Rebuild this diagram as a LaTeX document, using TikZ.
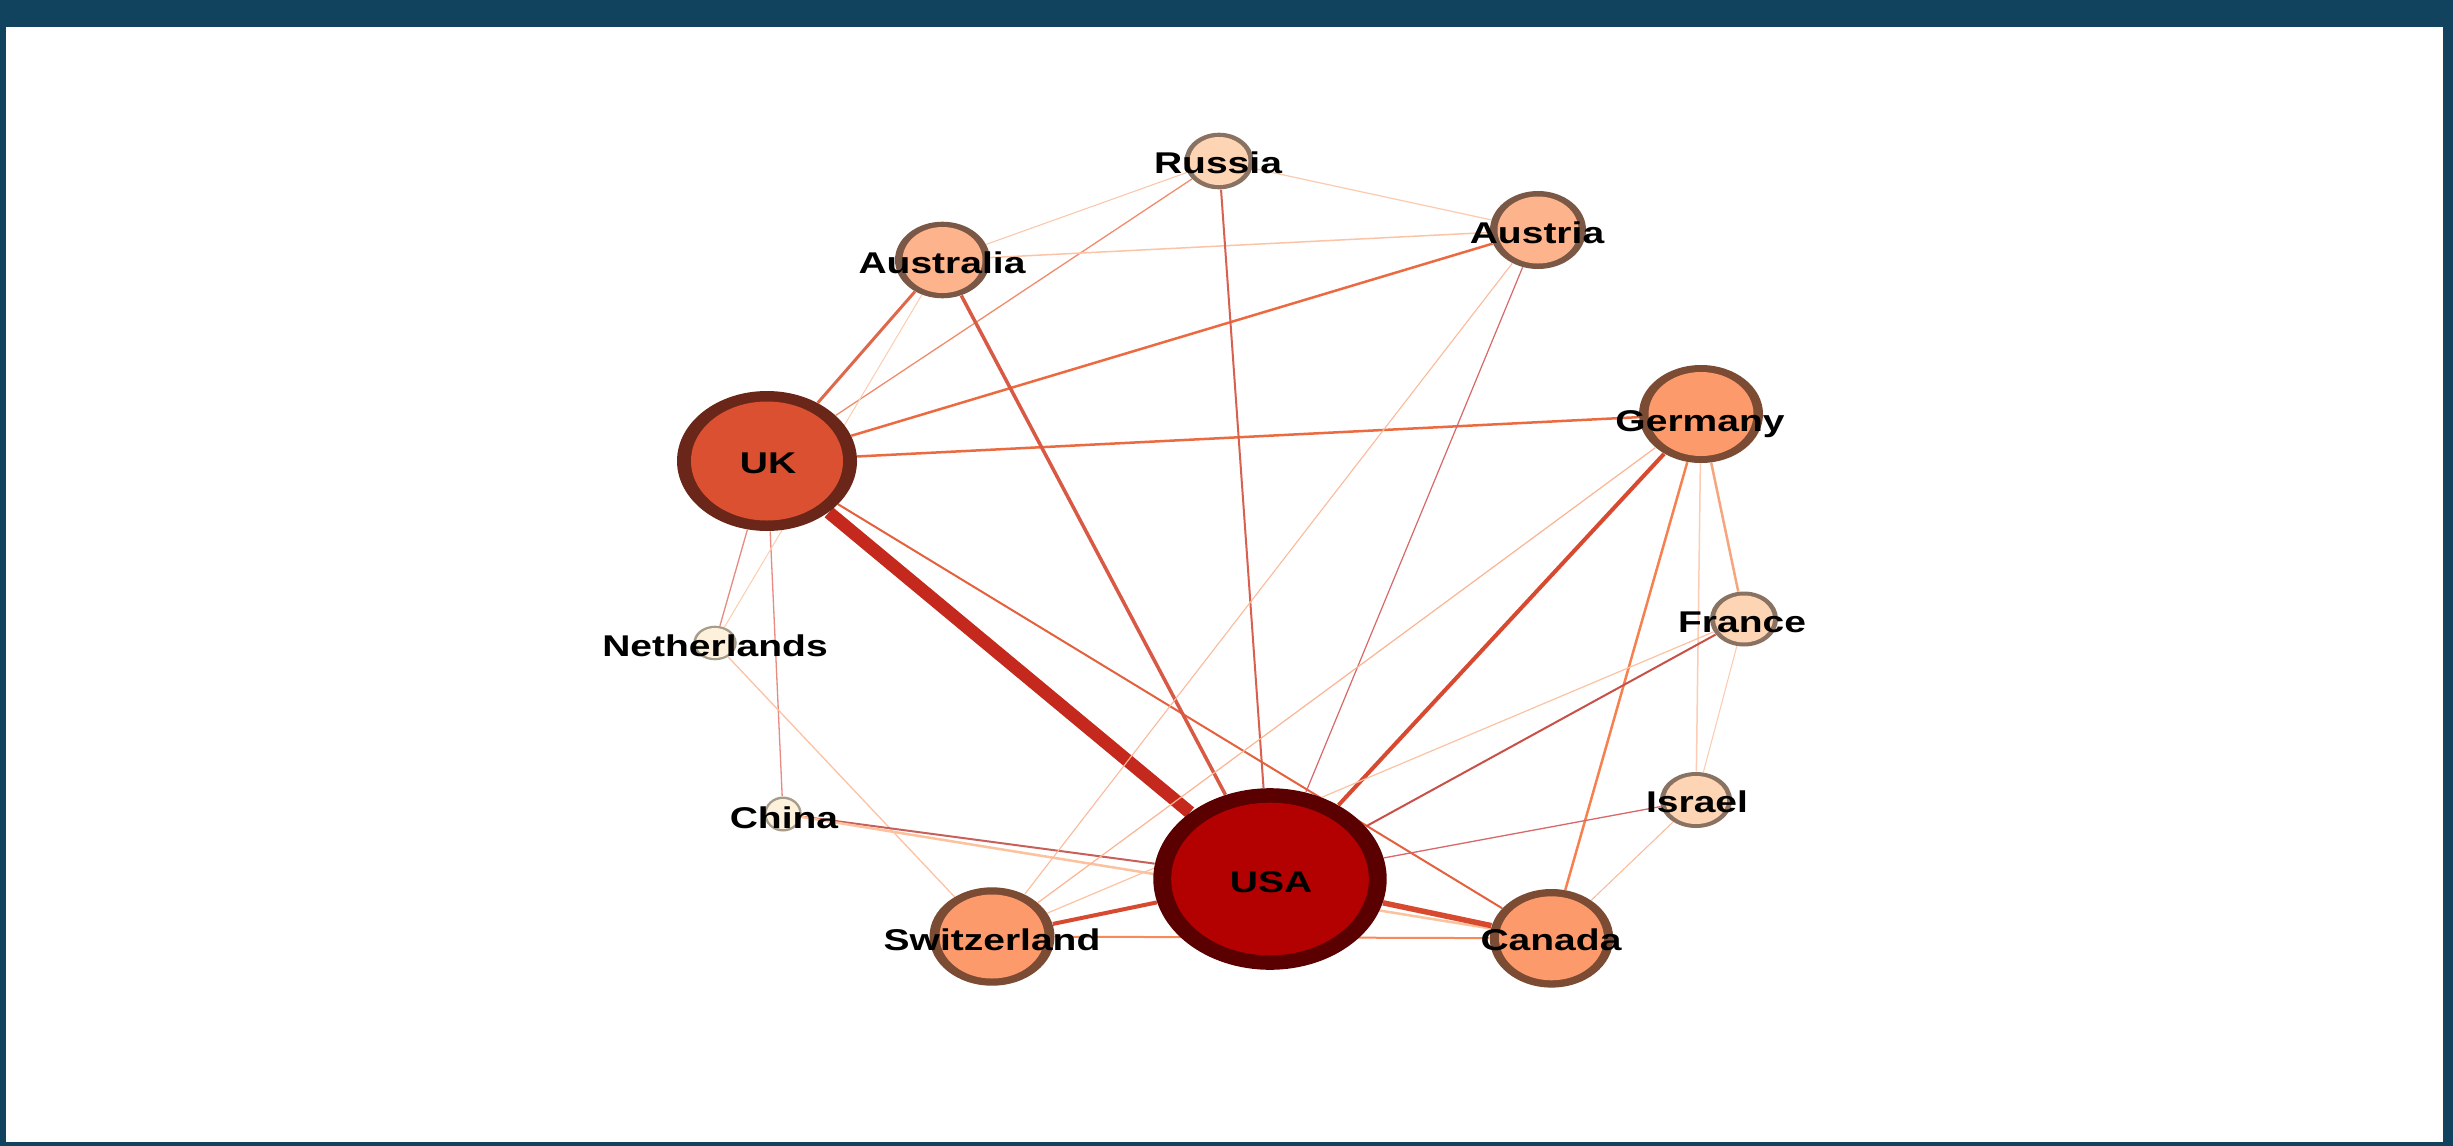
\documentclass[tikz,border=0pt]{standalone}
\usepackage{fontspec}
\setmainfont{Liberation Sans}
\usetikzlibrary{shapes.geometric}
\pgfdeclarelayer{bgzero}
\pgfdeclarelayer{edgelayer}
\pgfsetlayers{bgzero,edgelayer,main}

\definecolor{framec}{HTML}{12435E}
% node colours
\definecolor{usaF}{HTML}{B30000}\definecolor{usaB}{HTML}{5A0000}
\definecolor{ukF}{HTML}{DA5030}\definecolor{ukB}{HTML}{6B261A}
\definecolor{midF}{HTML}{FC9A6B}\definecolor{midB}{HTML}{7B4B34}
\definecolor{peaF}{HTML}{FDB48C}\definecolor{peaB}{HTML}{7B5845}
\definecolor{lowF}{HTML}{FDD5B5}\definecolor{lowB}{HTML}{8A7262}
\definecolor{minF}{HTML}{FEF1DC}\definecolor{minB}{HTML}{A59C8C}

% cnode args: x radius and y radius in px (1px = 0.5pt, so diameter in pt = radius value)
\tikzset{
  cnode/.style 2 args={ellipse, inner sep=0pt, draw=none,
    minimum width=#1pt, minimum height=#2pt},
  lbl/.style={anchor=base, inner sep=0pt, text=black,
    font=\fontsize{15pt}{18pt}\selectfont\bfseries},
  ed/.style 2 args={line width=#1*0.5pt,
    /utils/exec={\definecolor{edc}{HTML}{#2}}, draw=edc, line cap=butt},
}
\newcommand{\lab}[1]{\scalebox{1.3}[1]{#1}}

\begin{document}
\begin{tikzpicture}[x=0.5pt, y=-0.5pt]
\useasboundingbox (0,0) rectangle (2453,1146);

% frame
\begin{pgfonlayer}{bgzero}
\fill[framec] (0,0) rectangle (2453,1146);
\fill[white] (6,27) rectangle (2443,1142);
\end{pgfonlayer}

% nodes (outer ellipses = borders)
\node[cnode={116.7}{90.8}, fill=usaB] (usa) at (1270,879) {};
\node[cnode={90}{70}, fill=ukB] (uk) at (767,461) {};
\node[cnode={62}{49}, fill=midB] (ger) at (1701,414) {};
\node[cnode={62.5}{49.2}, fill=midB] (swi) at (992,936.5) {};
\node[cnode={61.7}{49.3}, fill=midB] (can) at (1551.5,938.3) {};
\node[cnode={47.5}{38.3}, fill=peaB] (aul) at (942.5,260) {};
\node[cnode={48}{39}, fill=peaB] (aut) at (1538,230) {};
\node[cnode={34.5}{28.3}, fill=lowB] (rus) at (1219,161) {};
\node[cnode={34}{27.5}, fill=lowB] (fra) at (1744,619) {};
\node[cnode={36}{28}, fill=lowB] (isr) at (1696,800) {};
\node[cnode={21.7}{17.3}, fill=minB] (ned) at (715,643) {};
\node[cnode={18.7}{17.5}, fill=minB] (chn) at (783,814) {};

% inner fills
\fill[usaF] (usa.center) ellipse [x radius=98.8, y radius=76.3];
\fill[ukF] (uk.center) ellipse [x radius=76, y radius=59.5];
\fill[midF] (ger.center) ellipse [x radius=52.5, y radius=42];
\fill[midF] (swi.center) ellipse [x radius=52.5, y radius=42];
\fill[midF] (can.center) ellipse [x radius=52.5, y radius=42];
\fill[peaF] (aul.center) ellipse [x radius=40, y radius=33];
\fill[peaF] (aut.center) ellipse [x radius=40.5, y radius=33.5];
\fill[lowF] (rus.center) ellipse [x radius=29.5, y radius=24];
\fill[lowF] (fra.center) ellipse [x radius=29, y radius=23.5];
\fill[lowF] (isr.center) ellipse [x radius=31, y radius=24];
\fill[minF] (ned.center) ellipse [x radius=19, y radius=15];
\fill[minF] (chn.center) ellipse [x radius=16.3, y radius=15];

% edges
\begin{pgfonlayer}{edgelayer}
\draw[ed={13}{C5281C}] (uk) -- (usa);
\draw[ed={3}{E0684A}] (uk) -- (aul);
\draw[ed={2.5}{EC6A40}] (uk) -- (aut);
\draw[ed={2.5}{EC6A40}] (uk) -- (ger);
\draw[ed={2}{E5603C}] (uk) -- (can);
\draw[ed={1.3}{E88A80}] (uk) -- (ned);
\draw[ed={1.3}{E88A80}] (uk) -- (chn);
\draw[ed={1.3}{F08C6C}] (uk) -- (rus);
\draw[ed={1}{FDCDB0}] (ned) -- (aul);
\draw[ed={1.3}{FCC2A4}] (ned) -- (swi);
\draw[ed={2}{C8605A}] (chn) -- (usa);
\draw[ed={2.5}{FCC29E}] (chn) -- (can);
\draw[ed={3.5}{D85A45}] (aul) -- (usa);
\draw[ed={1}{FCC4A6}] (aul) -- (rus);
\draw[ed={1.5}{FCC4A6}] (aul) -- (aut);
\draw[ed={1.2}{FCCAAE}] (rus) -- (aut);
\draw[ed={2}{D8604E}] (rus) -- (usa);
\draw[ed={1.2}{D86868}] (aut) -- (usa);
\draw[ed={1.1}{FCBA9A}] (aut) -- (swi);
\draw[ed={4}{D84A30}] (ger) -- (usa);
\draw[ed={2.5}{F7804F}] (ger) -- (can);
\draw[ed={2.5}{F6A57C}] (ger) -- (fra);
\draw[ed={1.5}{FCCCB4}] (ger) -- (isr);
\draw[ed={1.2}{FBB592}] (ger) -- (swi);
\draw[ed={2}{C85048}] (fra) -- (usa);
\draw[ed={1.2}{FCC2A2}] (fra) -- (swi);
\draw[ed={1}{FCCAAE}] (fra) -- (isr);
\draw[ed={1.3}{D86868}] (isr) -- (usa);
\draw[ed={1}{FCB898}] (isr) -- (can);
\draw[ed={5.5}{D84A30}] (usa) -- (can);
\draw[ed={4}{D84A30}] (usa) -- (swi);
\draw[ed={2}{F78A58}] (swi) -- (can);
\end{pgfonlayer}

% labels
\node[lbl] (tusa) at (1271,892) {\lab{USA}};
\node[lbl] (tuk) at (768,473) {\lab{UK}};
\node[lbl] (tger) at (1700,431) {\lab{Germany}};
\node[lbl] (tfra) at (1742,632) {\lab{France}};
\node[lbl] (tisr) at (1697,812) {\lab{Israel}};
\node[lbl] (tcan) at (1551,950) {\lab{Canada}};
\node[lbl] (tswi) at (992,950) {\lab{Switzerland}};
\node[lbl] (tchn) at (784,828) {\lab{China}};
\node[lbl] (tned) at (715,656) {\lab{Netherlands}};
\node[lbl] (trus) at (1218,173) {\lab{Russia}};
\node[lbl] (taul) at (942,273) {\lab{Australia}};
\node[lbl] (taut) at (1537,243) {\lab{Austria}};
\end{tikzpicture}
\end{document}
